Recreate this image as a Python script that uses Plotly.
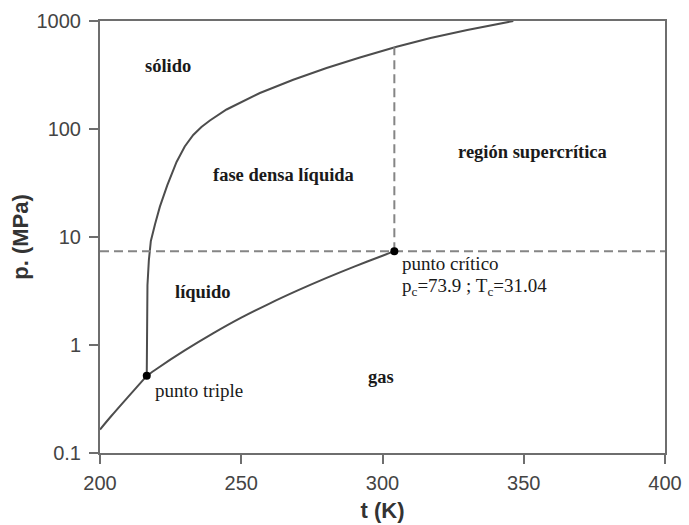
import plotly.graph_objects as go

# Sublimation curve (solid - gas)
subl_t = [200.0, 204.0, 208.0, 212.0, 216.55]
subl_p = [0.165, 0.22, 0.29, 0.38, 0.518]

# Vaporisation curve (liquid - gas), up to the critical point
vap_t = [216.55, 220.0, 230.0, 240.0, 250.0, 260.0, 270.0, 280.0, 290.0, 300.0, 304.19]
vap_p = [0.518, 0.60, 0.89, 1.28, 1.79, 2.42, 3.20, 4.16, 5.32, 6.71, 7.39]

# Melting curve (solid - liquid)
melt_t = [216.55, 216.6, 216.8, 217.3, 218.0, 219.5, 221.2, 223.8, 227.1, 230.0, 233.0,
          235.9, 238.9, 244.8, 256.6, 268.4, 280.2, 292.0, 305.0, 317.0, 330.0, 346.3]
melt_p = [0.518, 1.53, 3.57, 6.12, 9.18, 13.2, 19.1, 30.0, 49.5, 68.9, 88.0,
          104.4, 119.9, 151.6, 215.4, 285.5, 367.2, 459.0, 578.0, 696.0, 825.0, 1000.0]

# Special points
triple_t, triple_p = 216.55, 0.518
crit_t, crit_p = 304.19, 7.39
crit_melt_p = 572.0  # melting pressure at the critical temperature

# Axis ranges and ticks
t_range = [200, 400]
t_ticks = [200, 250, 300, 350, 400]
p_ticks = [0.1, 1, 10, 100, 1000]
p_tick_text = ["0.1", "1", "10", "100", "1000"]

# Region labels: (text, t, log10 p)
region_labels = [
    ("sólido", 224.1, 2.586),
    ("fase densa líquida", 264.8, 1.574),
    ("región supercrítica", 353.2, 1.79),
    ("líquido", 236.3, 0.494),
    ("gas", 299.4, -0.293),
]

curve_color = "#4d4d4d"
dash_color = "#858585"
axis_color = "#6e6e6e"

fig = go.Figure()

for tx, py in [(subl_t, subl_p), (vap_t, vap_p)]:
    fig.add_trace(go.Scatter(x=tx, y=py, mode="lines",
                             line=dict(color=curve_color, width=2, shape="spline", smoothing=0.8),
                             hoverinfo="skip", showlegend=False))
fig.add_trace(go.Scatter(x=melt_t, y=melt_p, mode="lines",
                         line=dict(color=curve_color, width=2),
                         hoverinfo="skip", showlegend=False))

# Dashed guides through the critical point
fig.add_trace(go.Scatter(x=[t_range[0], t_range[1]], y=[crit_p, crit_p], mode="lines",
                         line=dict(color=dash_color, width=2, dash="9px,5px"),
                         showlegend=False, hoverinfo="skip"))
fig.add_trace(go.Scatter(x=[crit_t, crit_t], y=[crit_p, crit_melt_p], mode="lines",
                         line=dict(color=dash_color, width=2, dash="9px,5px"),
                         showlegend=False, hoverinfo="skip"))

fig.add_trace(go.Scatter(x=[triple_t, crit_t], y=[triple_p, crit_p], mode="markers",
                         marker=dict(color="black", size=8),
                         showlegend=False, hoverinfo="skip"))

serif = "Liberation Serif"
for text, tx, ly in region_labels:
    fig.add_annotation(x=tx, y=ly, text="<b>" + text + "</b>", showarrow=False,
                       font=dict(family=serif, size=18.5, color="#1a1a1a"),
                       xanchor="center", yanchor="middle")

fig.add_annotation(x=218.9, y=-0.417, text="punto triple", showarrow=False,
                   font=dict(family=serif, size=19, color="#1a1a1a"),
                   xanchor="left", yanchor="middle")
fig.add_annotation(x=306.2, y=0.756, text="punto crítico", showarrow=False,
                   font=dict(family=serif, size=19, color="#1a1a1a"),
                   xanchor="left", yanchor="middle")
fig.add_annotation(x=306.2, y=0.54,
                   text="p<sub>c</sub>=%.1f ; T<sub>c</sub>=%.2f" % (crit_p * 10, crit_t - 273.15),
                   showarrow=False,
                   font=dict(family=serif, size=19, color="#1a1a1a"),
                   xanchor="left", yanchor="middle")

fig.update_xaxes(range=t_range, tickvals=t_ticks, showgrid=False, zeroline=False,
                 showline=True, linecolor=axis_color, linewidth=2, mirror=True,
                 ticks="outside", ticklen=9, tickwidth=2, tickcolor=axis_color,
                 ticklabelstandoff=2, automargin=False,
                 tickfont=dict(family="Liberation Sans", size=20, color="#444444"),
                 title=dict(text="<b>t (K)</b>", standoff=10,
                            font=dict(family="Liberation Sans", size=22, color="#333333")))
fig.update_yaxes(type="log", range=[-1, 3], tickvals=p_ticks, ticktext=p_tick_text,
                 showgrid=False, zeroline=False,
                 showline=True, linecolor=axis_color, linewidth=2, mirror=True,
                 ticks="outside", ticklen=9, tickwidth=2, tickcolor=axis_color,
                 ticklabelstandoff=4, automargin=False,
                 tickfont=dict(family="Liberation Sans", size=20, color="#444444"),
                 title=dict(text="<b>p. (MPa)</b>", standoff=2,
                            font=dict(family="Liberation Sans", size=22, color="#333333")))

fig.update_layout(width=689, height=525, margin=dict(l=100, r=24, t=21, b=72),
                  plot_bgcolor="white", paper_bgcolor="white")

fig.write_html("out.html")
